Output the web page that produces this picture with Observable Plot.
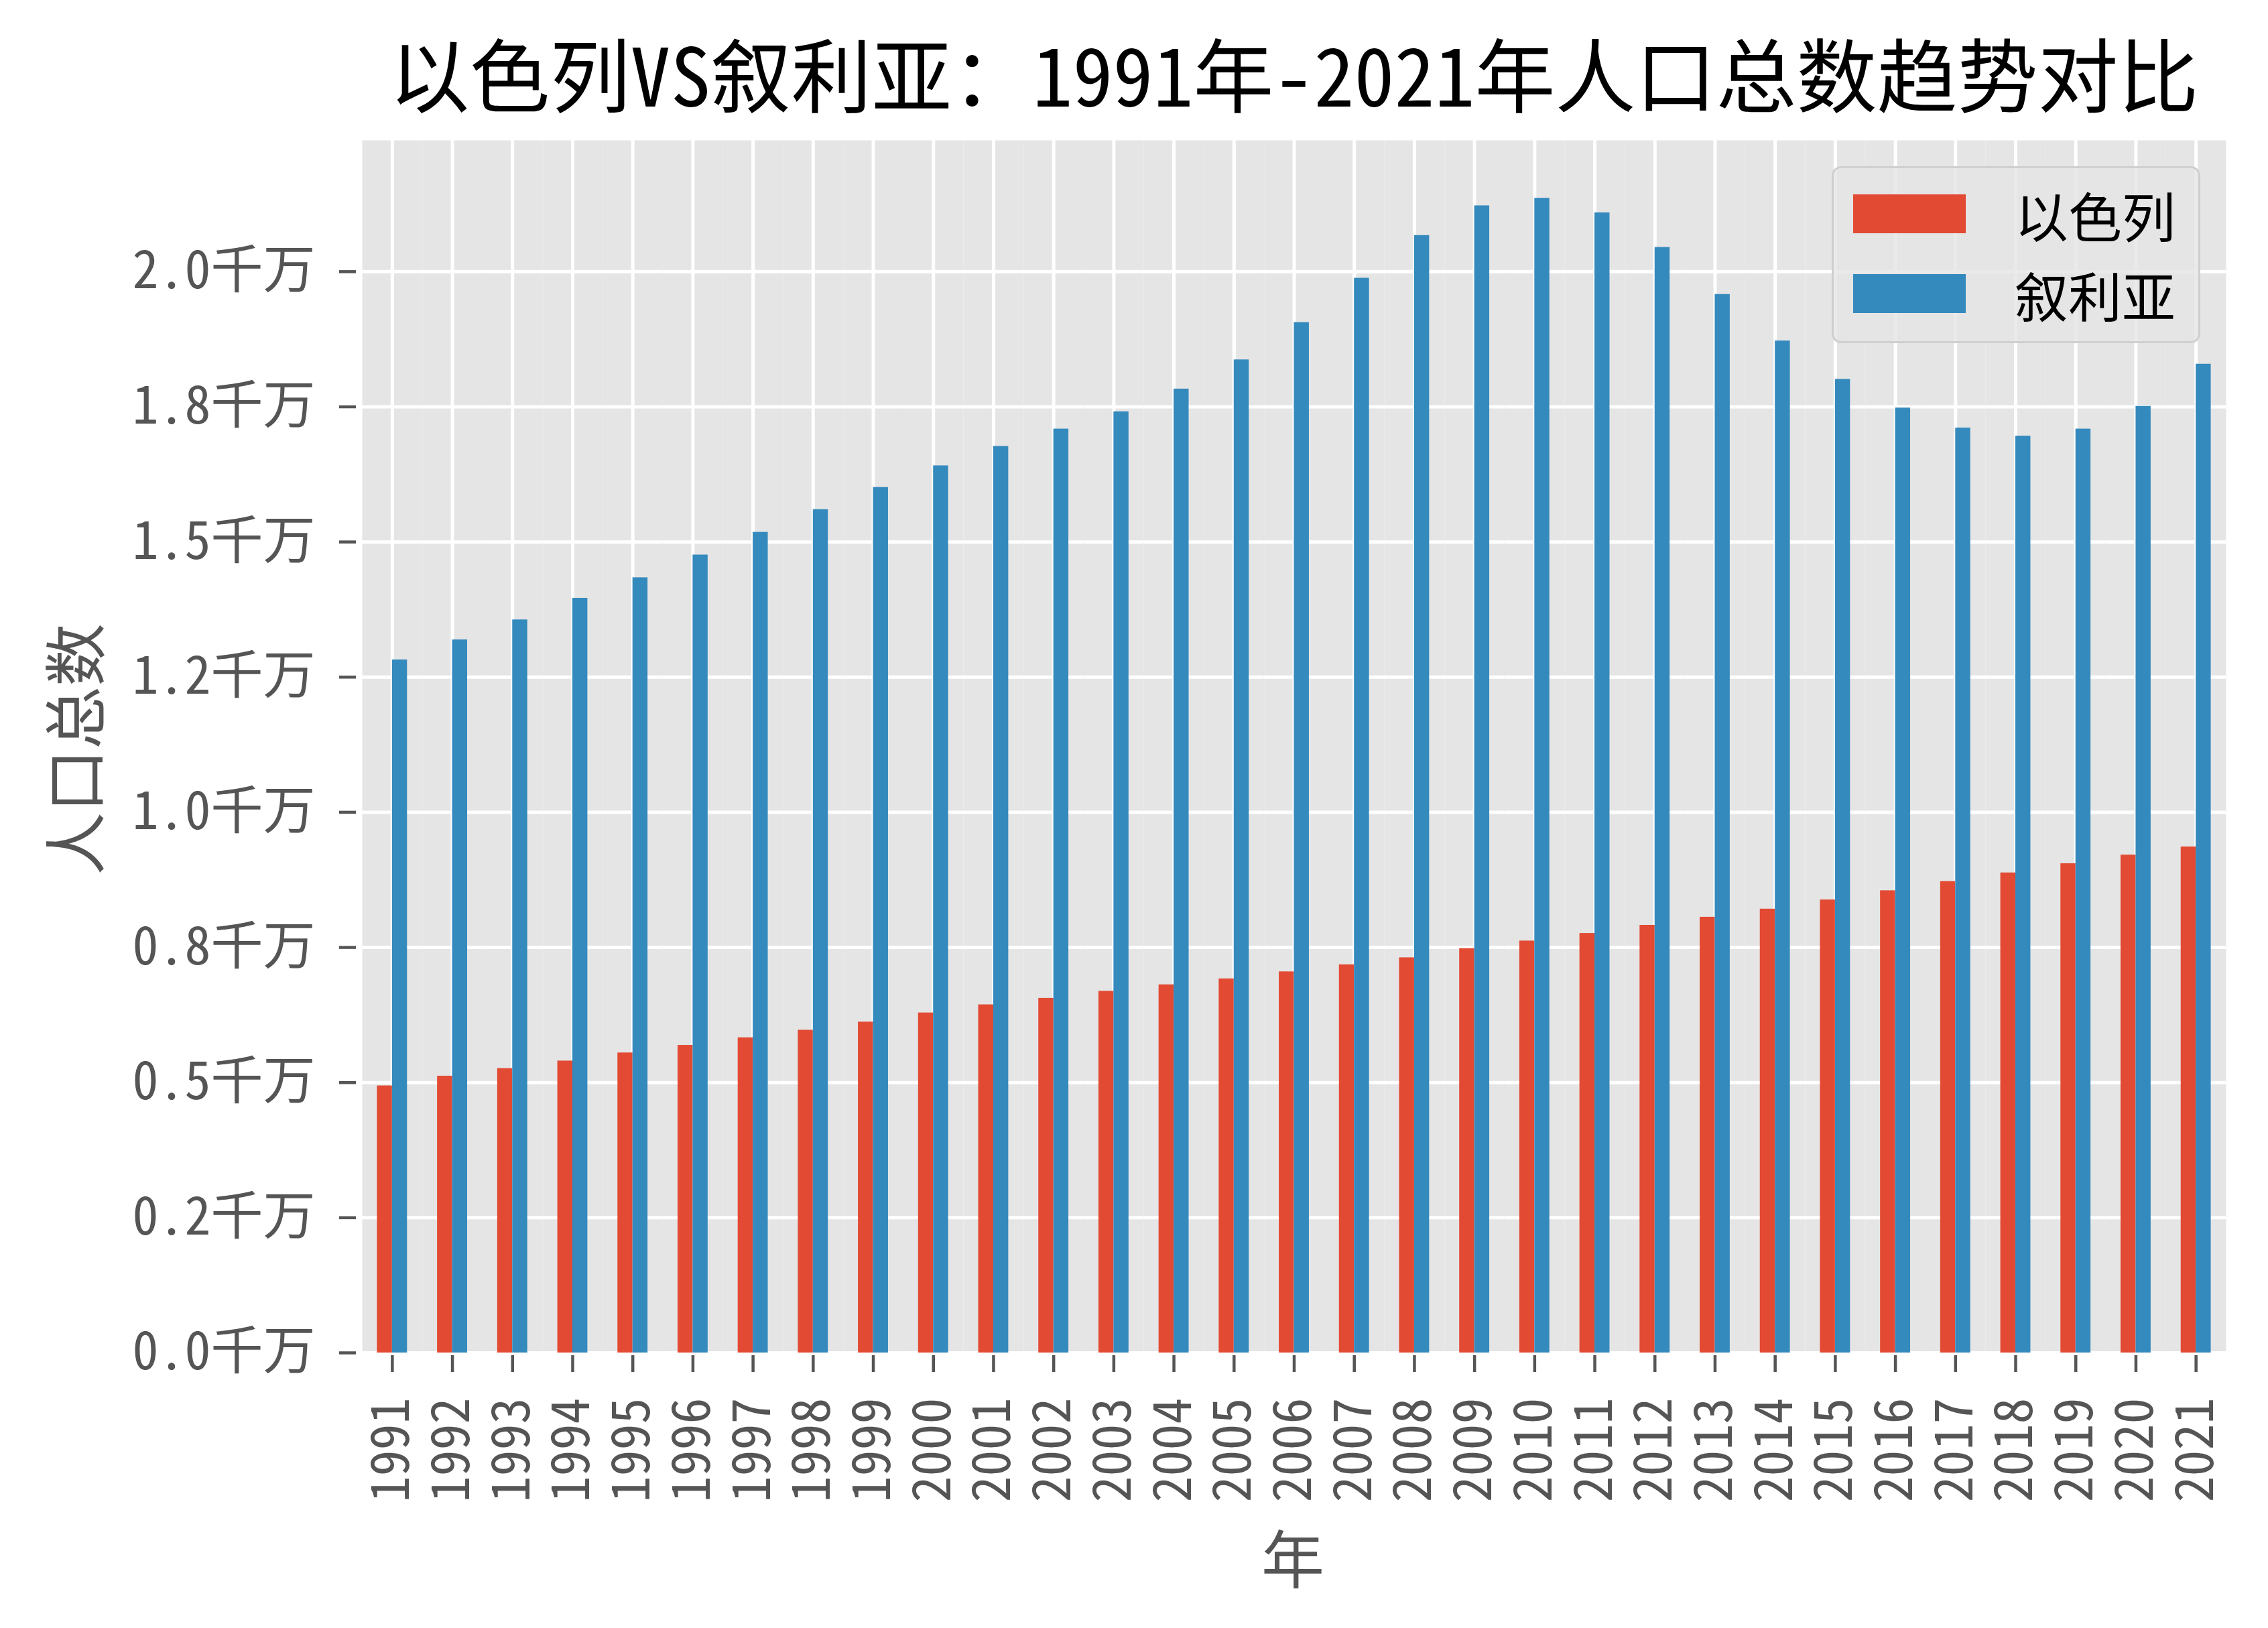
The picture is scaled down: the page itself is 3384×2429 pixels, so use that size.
<!DOCTYPE html>
<html>
<head>
<meta charset="utf-8">
<script src="https://cdn.jsdelivr.net/npm/d3@7"></script>
<script src="https://cdn.jsdelivr.net/npm/@observablehq/plot@0.6"></script>
<style>
  html, body { margin: 0; padding: 0; background: white; }
  #wrap { position: relative; width: 3384px; height: 2429px; background: white; overflow: hidden;
          font-family: "Noto Sans CJK SC", "Noto Sans", sans-serif; }
  #title { position: absolute; left: 540px; width: 2781px; top: 0; height: 214px; line-height: 214px;
           text-align: center; font-size: 120px; color: #000; white-space: nowrap;
           font-feature-settings: "hwid" 1; }
  #chart { position: absolute; left: 0; top: 200px; }
  #chart svg text { font-feature-settings: "hwid" 1; }
  #ylabel { position: absolute; left: 107px; top: 1118px; transform: translate(-50%, -50%) rotate(-90deg);
            font-size: 94px; color: #555; white-space: nowrap; line-height: 1; }
  #xlabel { position: absolute; left: 1929px; top: 2321px; transform: translate(-50%, -50%);
            font-size: 94px; color: #555; white-space: nowrap; line-height: 1; }
  #legend { position: absolute; left: 2733px; top: 248px; width: 544px; height: 258px;
            background: rgba(229,229,229,0.8); border: 3px solid #cfcfcf; border-radius: 14px; }
  .lrow { position: absolute; left: 0; height: 0; }
  .lsw { position: absolute; left: 29px; width: 168px; height: 58px; top: -29px; }
  .ltx { position: absolute; left: 270px; top: 0; transform: translateY(-50%); font-size: 80px; color: #000;
         white-space: nowrap; line-height: 1; }
</style>
</head>
<body>
<div id="wrap">
  <div id="title"></div>
  <div id="chart"></div>
  <div id="ylabel"></div>
  <div id="xlabel"></div>
  <div id="legend"></div>
</div>
<script>
// ---- data ----
const titleText = "以色列VS叙利亚：1991年-2021年人口总数趋势对比";
const xLabel = "年";
const yLabel = "人口总数";
const series = ["以色列", "叙利亚"];
const seriesColors = ["#E24A33", "#348ABD"];
const years = [1991, 1992, 1993, 1994, 1995, 1996, 1997, 1998, 1999, 2000,
               2001, 2002, 2003, 2004, 2005, 2006, 2007, 2008, 2009, 2010,
               2011, 2012, 2013, 2014, 2015, 2016, 2017, 2018, 2019, 2020, 2021];
const israel = [4.94, 5.12, 5.26, 5.40, 5.55, 5.69, 5.83, 5.97, 6.12, 6.29,
                6.44, 6.56, 6.69, 6.81, 6.92, 7.05, 7.18, 7.31, 7.48, 7.62,
                7.76, 7.91, 8.06, 8.21, 8.38, 8.55, 8.72, 8.88, 9.05, 9.21, 9.36]; // millions
const syria = [12.82, 13.19, 13.56, 13.96, 14.34, 14.76, 15.18, 15.60, 16.01, 16.41,
               16.77, 17.09, 17.41, 17.83, 18.37, 19.06, 19.88, 20.67, 21.22, 21.36,
               21.09, 20.45, 19.58, 18.72, 18.01, 17.48, 17.11, 16.96, 17.09, 17.51, 18.29]; // millions
const yTicks = [0, 2.5e6, 5e6, 7.5e6, 10e6, 12.5e6, 15e6, 17.5e6, 20e6];
const yTickLabels = ["0.0千万", "0.2千万", "0.5千万", "0.8千万", "1.0千万", "1.2千万", "1.5千万", "1.8千万", "2.0千万"];

// ---- table ----
const table = [];
years.forEach((yr, i) => {
  table.push({year: yr, country: series[0], value: israel[i] * 1e6});
  table.push({year: yr, country: series[1], value: syria[i] * 1e6});
});
const yMax = d3.max(table, d => d.value) * 1.05;

const chart = Plot.plot({
  width: 3384,
  height: 2229,
  marginTop: 9,
  marginBottom: 411,
  marginLeft: 540,
  marginRight: 63,
  style: {fontFamily: "'Noto Sans CJK SC', sans-serif", fontSize: "78px", background: "white", color: "#555"},
  fx: {domain: years, padding: 0, round: false, label: null},
  x: {domain: series, paddingInner: 0, paddingOuter: 1, round: false, axis: null},
  y: {domain: [0, yMax], label: null},
  color: {domain: series, range: seriesColors},
  marks: [
    Plot.frame({fill: "#E5E5E5", stroke: null}),
    Plot.gridY(yTicks, {stroke: "white", strokeOpacity: 1, strokeWidth: 5}),
    Plot.gridFx({stroke: "white", strokeOpacity: 1, strokeWidth: 5}),
    Plot.barY(table, {fx: "year", x: "country", y: "value", fill: "country", inset: 0}),
    Plot.axisY(yTicks, {
      tickFormat: d => yTickLabels[yTicks.indexOf(d)],
      tickSize: 25, tickPadding: 36, dx: -9,
      color: "#555", strokeWidth: 4.5, fontSize: 78, label: null
    }),
    Plot.axisFx({
      anchor: "bottom",
      tickFormat: d => String(d),
      tickRotate: -90, tickSize: 25, tickPadding: 38, dy: 4,
      color: "#555", strokeWidth: 4.5, fontSize: 78, label: null
    })
  ]
});
document.getElementById("chart").appendChild(chart);

document.getElementById("title").textContent = titleText;
document.getElementById("ylabel").textContent = yLabel;
document.getElementById("xlabel").textContent = xLabel;

const legend = document.getElementById("legend");
const rowCenters = [68, 187];
series.forEach((s, i) => {
  const row = document.createElement("div");
  row.className = "lrow";
  row.style.top = rowCenters[i] + "px";
  const sw = document.createElement("div");
  sw.className = "lsw";
  sw.style.background = seriesColors[i];
  const tx = document.createElement("div");
  tx.className = "ltx";
  tx.textContent = s;
  row.appendChild(sw);
  row.appendChild(tx);
  legend.appendChild(row);
});
</script>
</body>
</html>
